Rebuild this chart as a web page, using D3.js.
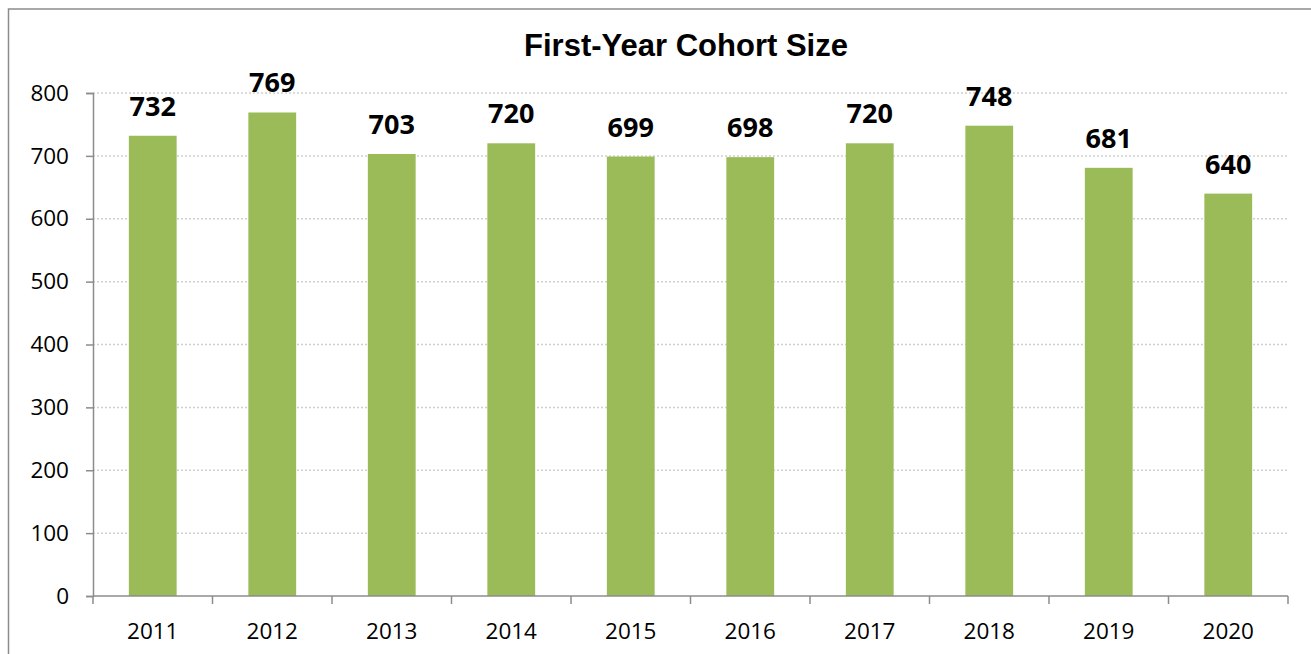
<!DOCTYPE html>
<html>
<head>
<meta charset="utf-8">
<script src="https://cdn.jsdelivr.net/npm/d3@7"></script>
<style>
    body { margin: 0; background: #fff; }
    svg { display: block; }
</style>
</head>
<body>
<div id="chart"></div>
<script>
    "use strict";

    // data
    var years = ['2011', '2012', '2013', '2014', '2015', '2016', '2017', '2018', '2019', '2020'];
    var cohort = [732, 769, 703, 720, 699, 698, 720, 748, 681, 640];
    var yTicks = [0, 100, 200, 300, 400, 500, 600, 700, 800];

    var width = 1311,
        height = 654,
        plot = {left: 93, right: 1288, top: 93, bottom: 596};

    var svg = d3.select('#chart').append('svg')
        .attr('width', width)
        .attr('height', height);

    // chart frame (right and bottom edges fall outside the picture)
    svg.append('rect')
        .attr('x', 8.5)
        .attr('y', 9)
        .attr('width', 1320)
        .attr('height', 700)
        .attr('fill', 'none')
        .attr('stroke', '#8c8c8c')
        .attr('stroke-width', 1.5);

    var x = d3.scaleBand()
        .domain(years)
        .range([plot.left, plot.right])
        .paddingInner(0.6)
        .paddingOuter(0.3);

    var y = d3.scaleLinear()
        .domain([0, 800])
        .range([plot.bottom, plot.top]);

    // dotted gridlines
    svg.append('g').selectAll('line')
        .data(yTicks.filter(function (t) { return t > 0; }))
        .enter().append('line')
        .attr('x1', plot.left)
        .attr('x2', plot.right)
        .attr('y1', function (d) { return y(d); })
        .attr('y2', function (d) { return y(d); })
        .attr('stroke', '#cfcfcf')
        .attr('stroke-width', 1.5)
        .attr('stroke-dasharray', '2,2');

    // bars
    svg.append('g').selectAll('rect')
        .data(cohort)
        .enter().append('rect')
        .attr('x', function (d, i) { return x(years[i]); })
        .attr('y', function (d) { return y(d); })
        .attr('width', x.bandwidth())
        .attr('height', function (d) { return y(0) - y(d); })
        .attr('fill', '#9bbb59');

    // value labels
    svg.append('g').selectAll('text')
        .data(cohort)
        .enter().append('text')
        .attr('x', function (d, i) { return x(years[i]) + x.bandwidth() / 2; })
        .attr('y', function (d) { return y(d) - 20; })
        .attr('text-anchor', 'middle')
        .attr('font-family', '"Open Sans", sans-serif')
        .attr('font-weight', 'bold')
        .attr('font-size', '27px')
        .attr('fill', '#000')
        .text(function (d) { return d; });

    // y axis
    var yAxis = d3.axisLeft(y)
        .tickValues(yTicks)
        .tickSize(7)
        .tickPadding(17);
    var gy = svg.append('g')
        .attr('transform', 'translate(' + plot.left + ',0)')
        .call(yAxis);

    // x axis, ticks sit on the band boundaries
    var gx = svg.append('g')
        .attr('transform', 'translate(0,' + plot.bottom + ')');
    gx.append('line')
        .attr('x1', plot.left)
        .attr('x2', plot.right)
        .attr('stroke', '#8c8c8c')
        .attr('stroke-width', 1.5);
    var step = x.step(),
        x0 = plot.left;
    gx.selectAll('.tick')
        .data(d3.range(years.length + 1))
        .enter().append('line')
        .attr('class', 'tick')
        .attr('x1', function (i) { return x0 + i * step; })
        .attr('x2', function (i) { return x0 + i * step; })
        .attr('y1', 0)
        .attr('y2', 8)
        .attr('stroke', '#8c8c8c')
        .attr('stroke-width', 1.5);
    gx.selectAll('text')
        .data(years)
        .enter().append('text')
        .attr('x', function (d) { return x(d) + x.bandwidth() / 2; })
        .attr('y', 43)
        .attr('text-anchor', 'middle')
        .attr('font-family', '"Open Sans", sans-serif')
        .attr('font-size', '22.5px')
        .attr('fill', '#000')
        .text(function (d) { return d; });

    gy.select('.domain').attr('stroke', '#8c8c8c').attr('stroke-width', 1.5);
    gy.selectAll('.tick line').attr('stroke', '#8c8c8c').attr('stroke-width', 1.5);
    gy.selectAll('.tick text')
        .attr('font-family', '"Open Sans", sans-serif')
        .attr('font-size', '22.5px')
        .attr('fill', '#000');

    // title
    svg.append('text')
        .attr('x', 686)
        .attr('y', 56)
        .attr('text-anchor', 'middle')
        .attr('font-family', '"Liberation Sans", Arial, sans-serif')
        .attr('font-weight', 'bold')
        .attr('font-size', '31px')
        .attr('fill', '#000')
        .text('First-Year Cohort Size');
</script>
</body>
</html>
